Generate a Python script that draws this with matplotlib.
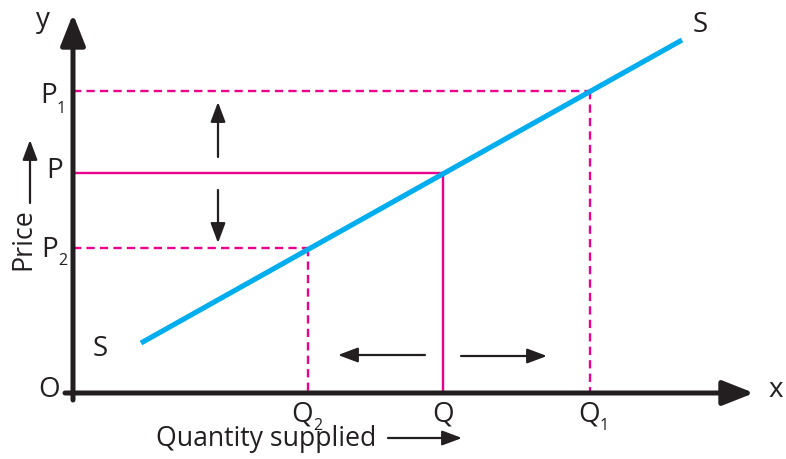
import matplotlib
matplotlib.use("Agg")
import matplotlib.pyplot as plt
from matplotlib.patches import FancyArrowPatch, ArrowStyle

# ---- data (diagram coordinates, origin at O) ----
supply_x = [68, 609]
supply_y = [50, 353]
Q2, Q, Q1 = 235, 370, 517
P2, P, P1 = 145, 220, 302
q_labels = ["Q", "Q", "Q"]
q_subs = ["2", "", "1"]
p_labels = ["P", "P", "P"]
p_subs = ["1", "", "2"]

BLACK = "#231F20"
MAG = "#EC008C"
BLUE = "#00AEEF"
FONT = "Open Sans"

fig = plt.figure(figsize=(7.86, 4.59), dpi=100)
ax = fig.add_axes([0, 0, 1, 1])
ax.set_xlim(-73, 786 - 73)
ax.set_ylim(393 - 459, 393)
ax.axis("off")

def arrow(x0, y0, x1, y1, lw, hl, hw, z=3):
    a = FancyArrowPatch((x0, y0), (x1, y1),
                        arrowstyle=ArrowStyle("-|>", head_length=hl, head_width=hw),
                        mutation_scale=1, lw=lw, color=BLACK,
                        shrinkA=0, shrinkB=0, zorder=z)
    ax.add_patch(a)

# axes
arrow(0, -7, 0, 379, 3.6, 19, 7.5, z=5)
arrow(-8, 0, 681, 0, 3.6, 19, 7.5, z=5)

dash = (0, (3.5, 2.2))
lw_m = 1.7
# P1 / Q1 dashed
ax.plot([0, Q1], [P1, P1], color=MAG, lw=lw_m, linestyle=dash, zorder=2)
ax.plot([Q1, Q1], [P1, 0], color=MAG, lw=lw_m, linestyle=dash, zorder=2)
# P2 / Q2 dashed
ax.plot([0, Q2], [P2, P2], color=MAG, lw=lw_m, linestyle=dash, zorder=2)
ax.plot([Q2, Q2], [P2, 0], color=MAG, lw=lw_m, linestyle=dash, zorder=2)
# P / Q solid
ax.plot([0, Q], [P, P], color=MAG, lw=lw_m, zorder=2)
ax.plot([Q, Q], [P, 0], color=MAG, lw=lw_m, zorder=2)

# supply curve
ax.plot(supply_x, supply_y, color=BLUE, lw=3.7, solid_capstyle="butt", zorder=3)

# movement arrows
arrow(145, 236, 145, 291, 1.6, 12, 4.5)
arrow(145, 203, 145, 150, 1.6, 12, 4.5)
arrow(352, 38, 265, 38, 1.6, 12, 4.5)
arrow(388, 37, 474, 37, 1.6, 12, 4.5)

fs = 20
sub_fs = 11.5
def t(x, y, s, size=fs, **kw):
    ax.text(x, y, s, fontsize=size, family=FONT, color=BLACK, **kw)

# axis letters
t(-30, 373, "y", ha="center", va="center")
t(703, 3, "x", ha="center", va="center")
t(-24, 3, "O", ha="center", va="center")
t(27, 44, "S", ha="center", va="center")
t(627, 368, "S", ha="center", va="center")

# price labels
p_vals = [P1, P, P2]
p_lab_x = [-24.5, -18, -23]
p_lab_dy = [-12, -5, -9]
p_sub_x = [-12, 0, -10]
p_sub_dy = [-22, 0, -17]
for lab, sub, v, lx, ldy, sx, sdy in zip(p_labels, p_subs, p_vals,
                                          p_lab_x, p_lab_dy, p_sub_x, p_sub_dy):
    t(lx, v + ldy, lab, ha="center", va="baseline")
    if sub:
        t(sx, v + sdy, sub, size=sub_fs, ha="center", va="baseline")

# quantity labels
q_vals = [Q2, Q, Q1]
q_lab_dx = [-5.5, 0, -1]
q_sub_dx = [10, 0, 14]
for lab, sub, v, ldx, sdx in zip(q_labels, q_subs, q_vals, q_lab_dx, q_sub_dx):
    t(v + ldx, -28, lab, ha="center", va="baseline")
    if sub:
        t(v + sdx, -37, sub, size=sub_fs, ha="center", va="baseline")

# axis titles
t(-50, 154, "Price", size=19.3, ha="center", va="center", rotation=90)
arrow(-43, 190, -43, 253, 1.6, 12, 4.5)
t(83, -53, "Quantity supplied", size=19.2, ha="left", va="baseline")
arrow(315, -45, 389, -45, 1.6, 12, 4.5)

fig.savefig("out.png", dpi=100)
